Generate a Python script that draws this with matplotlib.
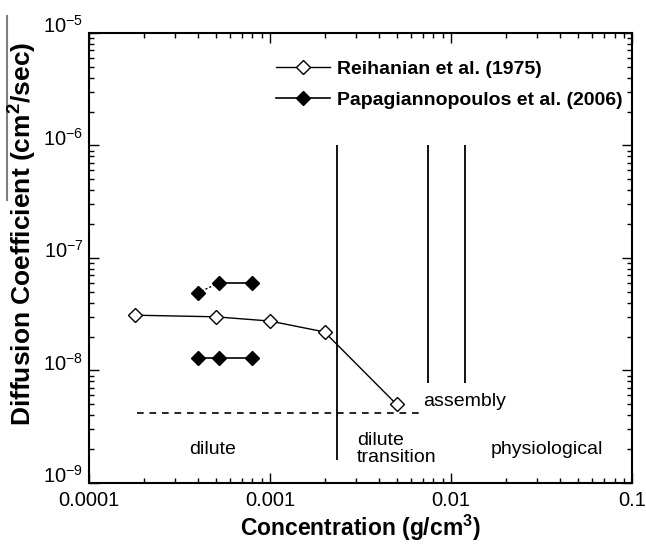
import matplotlib
matplotlib.use("Agg")
import matplotlib.pyplot as plt
from matplotlib.lines import Line2D

plt.rcParams["font.family"] = ["Liberation Sans", "DejaVu Sans"]
plt.rcParams["mathtext.fontset"] = "custom"
plt.rcParams["mathtext.rm"] = "Liberation Sans"
plt.rcParams["mathtext.bf"] = "Liberation Sans:bold"

# Reihanian et al. (1975)
reih_conc = [0.00018, 0.0005, 0.001, 0.002, 0.005]
reih_diff = [3.1e-8, 3.0e-8, 2.75e-8, 2.2e-8, 5.0e-9]

# Papagiannopoulos et al. (2006), two sets
papa_conc = [0.0004, 0.00052, 0.0008]
papa_high = [4.9e-8, 6.0e-8, 6.0e-8]
papa_low = [1.3e-8, 1.3e-8, 1.3e-8]

# regime boundaries
bound_x = [0.00235, 0.0075, 0.012]
bound_top = [1e-6, 1e-6, 1e-6]
bound_bottom = [1.6e-9, 7.7e-9, 7.7e-9]
dash_level = 4.2e-9
dash_range = (0.000185, 0.0071)

regions = ["dilute", "dilute\ntransition", "assembly", "physiological"]
region_x = [0.00048, 0.00302, 0.0070, 0.0166]
region_y = [2.0e-9, 2.0e-9, 5.25e-9, 2.0e-9]
region_ha = ["center", "left", "left", "left"]

x_ticks = [1e-4, 1e-3, 1e-2, 1e-1]
x_ticklabels = ["0.0001", "0.001", "0.01", "0.1"]
y_ticks = [1e-9, 1e-8, 1e-7, 1e-6, 1e-5]
y_ticklabels = [r"$10^{-9}$", r"$10^{-8}$", r"$10^{-7}$", r"$10^{-6}$", r"$10^{-5}$"]

fig = plt.figure(figsize=(6.46, 5.45), dpi=100)
ax = fig.add_axes([0.1378, 0.1138, 0.8406, 0.8257])

ax.plot(reih_conc, reih_diff, color="black", lw=1, marker="D", ms=7,
        mfc="white", mec="black", mew=1, label="Reihanian et al. (1975)")
ax.plot(papa_conc[:2], papa_high[:2], color="black", lw=1, ls=(0, (1.5, 1.5)))
ax.plot(papa_conc[1:], papa_high[1:], color="black", lw=1.2)
ax.plot(papa_conc, papa_high, ls="none", marker="D", ms=7.5, color="black")
ax.plot(papa_conc, papa_low, color="black", lw=1.2, marker="D", ms=7.5,
        label="Papagiannopoulos et al. (2006)")

ax.vlines(bound_x, bound_bottom, bound_top, color="black", lw=1.3)
ax.hlines(dash_level, dash_range[0], dash_range[1], color="black", lw=1.2,
          linestyles=(0, (4, 3.5)))

for txt, x, y, ha in zip(regions, region_x, region_y, region_ha):
    ax.text(x, y, txt, ha=ha, va="center", fontsize=14, linespacing=0.95)

ax.set_xscale("log")
ax.set_yscale("log")
ax.set_xlim(1e-4, 0.1)
ax.set_ylim(1e-9, 1e-5)
ax.set_xticks(x_ticks)
ax.set_xticklabels(x_ticklabels)
ax.set_yticks(y_ticks)
ax.set_yticklabels(y_ticklabels)
ax.xaxis.set_minor_formatter(plt.NullFormatter())
ax.yaxis.set_minor_formatter(plt.NullFormatter())

ax.tick_params(which="both", direction="in", top=True, right=True, width=1)
ax.tick_params(which="major", length=7)
ax.tick_params(which="minor", length=3.5)
ax.tick_params(axis="x", which="major", labelsize=14.5, pad=6)
ax.tick_params(axis="y", which="major", labelsize=14.5, pad=4)
for lab in ax.get_yticklabels():
    lab.set_va("baseline")
for sp in ax.spines.values():
    sp.set_linewidth(1.5)

ax.legend(loc="upper left", bbox_to_anchor=(0.344, 0.94), frameon=False,
          borderpad=0, borderaxespad=0, handlelength=2.8, handletextpad=0.36,
          labelspacing=0.7, prop={"weight": "bold", "size": 14})

ax_mid = 0.1378 + 0.8406 / 2
fig.text(ax_mid, 0.032, r"Concentration (g/cm$^{\mathbf{3}}$)", ha="center",
         va="center", fontsize=16.5, fontweight="bold")
fig.text(0.034, 0.571, r"Diffusion Coefficient (cm$^{\mathbf{2}}$/sec)",
         rotation=90, ha="center", va="center", fontsize=19, fontweight="bold")

# faint scan line at the left edge of the original figure
fig.add_artist(Line2D([0.011, 0.011], [0.633, 0.971], color="0.5", lw=1.5))

fig.savefig("out.png", dpi=100)
